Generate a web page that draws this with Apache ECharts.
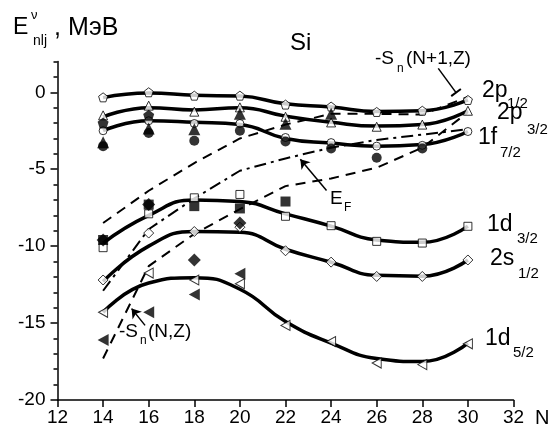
<!DOCTYPE html>
<html>
<head>
<meta charset="utf-8">
<script src="https://cdn.jsdelivr.net/npm/echarts@6/dist/echarts.min.js"></script>
<style>
html, body { margin: 0; padding: 0; background: #fff; }
#chart { width: 551px; height: 432px; }
</style>
</head>
<body>
<div id="chart"></div>
<script>
// neutron numbers of the Si isotopes
const neutrons = [14, 16, 18, 20, 22, 24, 26, 28, 30]

// thick fitted curves
const fit2p12 = [-0.35, -0.05, -0.2, -0.25, -0.75, -0.95, -1.25, -1.2, -0.5]
const fit2p32 = [-1.6, -1.0, -1.15, -1.0, -1.55, -1.95, -2.2, -2.1, -1.2]
const fit1f72 = [-2.5, -1.85, -1.95, -2.1, -3.0, -3.3, -3.5, -3.4, -2.55]
const fit1d32 = [-9.8, -8.0, -7.0, -7.1, -7.9, -8.7, -9.6, -9.75, -8.7]
const fit2s12 = [-12.3, -10.0, -9.05, -9.1, -10.2, -11.05, -11.9, -11.95, -10.9]
const fit1d52 = [-14.3, -12.4, -12.05, -12.8, -14.9, -16.3, -17.3, -17.5, -16.3]

// calculated levels (hollow markers)
const calc2p12 = [-0.33, 0.0, -0.22, -0.22, -0.8, -0.93, -1.28, -1.2, -0.5]
const calc2p32 = [-1.5, -0.87, -1.26, -0.98, -1.59, -1.96, -2.24, -2.1, -1.2]
const calc1f72 = [-2.5, -1.85, -2.03, -2.03, -2.94, -3.27, -3.5, -3.45, -2.55]
const calc1d32 = [-10.1, -7.9, -6.86, -6.64, -8.06, -8.67, -9.69, -9.8, -8.71]
const calc2s12 = [-12.2, -9.15, -9.05, -8.77, -10.3, -11.04, -11.97, -11.97, -10.9]
const calc1d52 = [-14.3, -11.75, -12.2, -12.45, -15.15, -16.2, -17.6, -17.7, -16.35]

// experimental levels (filled markers)
const expPentN = [14, 16]
const expPent = [-2.0, -1.5]
const expTriN = [14, 16, 18, 20, 22, 24]
const expTri = [-3.25, -2.35, -2.4, -1.4, -2.05, -1.4]
const expCircN = [14, 16, 18, 20, 22, 24, 26, 28]
const expCirc = [-3.5, -2.65, -3.15, -2.5, -3.2, -3.65, -4.25, -3.65]
const expSqN = [14, 16, 18, 20, 22]
const expSq = [-9.6, -7.3, -7.4, -7.55, -7.1]
const expDiaN = [14, 16, 18, 20]
const expDia = [-9.6, -7.3, -10.9, -8.5]
const expLeftN = [14, 16, 18, 20]
const expLeft = [-16.1, -14.3, -13.15, -11.8]

// separation energies and Fermi energy
const snN = [-17.3, -11.3, -9.2, -7.6, -6.1, -5.6, -4.9, -3.6, -1.3]
const snN1 = [-8.5, -6.4, -4.6, -3.0, -2.1, -1.4, -1.4, -1.45, -0.3]
const fermi = [-12.9, -8.9, -6.9, -5.1, -4.3, -3.6, -3.1, -2.75, -2.4]

// axis ticks
const xTicks = [12, 14, 16, 18, 20, 22, 24, 26, 28, 30, 32]
const yMajor = [-20, -15, -10, -5, 0]
const yMinor = [-19, -18, -17, -16, -14, -13, -12, -11, -9, -8, -7, -6, -4, -3, -2, -1, 1, 2]

const FONT = '"Liberation Sans", Arial, sans-serif'
const PENT = 'path://M0,-10L9.51,-3.09L5.88,8.09L-5.88,8.09L-9.51,-3.09Z'
const LEFT = 'path://M-1,0L1,-1L1,1Z'

function pairs(xs, ys) {
  return xs.map((x, i) => [x, ys[i]])
}

function fitLine(ys) {
  return {
    type: 'line', data: pairs(neutrons, ys), smooth: 0.5, showSymbol: false,
    lineStyle: { color: '#000', width: 3.5 }, silent: true, z: 3
  }
}

function hollow(xs, ys, symbol, size) {
  return {
    type: 'scatter', data: pairs(xs, ys), symbol: symbol, symbolSize: size,
    itemStyle: { color: '#fff', borderColor: '#000', borderWidth: 1 }, silent: true, z: 4
  }
}

function filled(xs, ys, symbol, size) {
  return {
    type: 'scatter', data: pairs(xs, ys), symbol: symbol, symbolSize: size,
    itemStyle: { color: '#000' }, silent: true, z: 5
  }
}

function txt(x, y, s, size) {
  return {
    type: 'text', x: x, y: y, silent: true,
    style: { text: s, font: size + 'px ' + FONT, fill: '#000', align: 'left', verticalAlign: 'middle', textAlign: 'left', textVerticalAlign: 'middle' }
  }
}

const myChart = echarts.init(document.getElementById('chart'))
myChart.setOption({
  animation: false,
  backgroundColor: '#fff',
  grid: { left: 57.5, right: 37.5, top: 61.5, bottom: 32, containLabel: false },
  xAxis: {
    type: 'value', min: 12, max: 32, interval: 2,
    axisLine: { show: true, onZero: false, lineStyle: { color: '#000', width: 1.5 } },
    axisTick: { show: true, length: 7, lineStyle: { color: '#000', width: 1.5 }, customValues: xTicks },
    axisLabel: { color: '#000', fontSize: 19, fontFamily: FONT, margin: 8, customValues: xTicks },
    splitLine: { show: false }
  },
  yAxis: [{
    type: 'value', min: -20, max: 2, position: 'left',
    axisLine: { show: true, onZero: false, lineStyle: { color: '#000', width: 1.5 } },
    axisTick: { show: true, length: 7, lineStyle: { color: '#000', width: 1.5 }, customValues: yMajor },
    axisLabel: { color: '#000', fontSize: 19, fontFamily: FONT, margin: 12, customValues: yMajor },
    splitLine: { show: false }
  }, {
    type: 'value', min: -20, max: 2, position: 'left',
    axisLine: { show: false, onZero: false },
    axisTick: { show: true, length: 4, lineStyle: { color: '#000', width: 1.5 }, customValues: yMinor },
    axisLabel: { show: false },
    splitLine: { show: false }
  }],
  series: [
    {
      type: 'line', data: pairs(neutrons, snN), showSymbol: false, silent: true, z: 2,
      lineStyle: { color: '#000', width: 2, type: [10, 7] },
      markLine: {
        silent: true, symbol: ['none', 'arrow'], symbolSize: 9,
        label: { show: false },
        lineStyle: { color: '#000', width: 1.5, type: 'solid' },
        data: [
          [{ coord: [15.84, -15.15] }, { coord: [15.25, -14.06] }],
          [{ coord: [23.8, -6.38] }, { coord: [22.65, -4.35] }],
          [{ coord: [28.7, 1.55] }, { coord: [29.48, -0.02], symbol: 'rect', symbolSize: [12, 2] }]
        ]
      }
    },
    {
      type: 'line', data: pairs(neutrons, snN1), showSymbol: false, silent: true, z: 2,
      lineStyle: { color: '#000', width: 2, type: [10, 7] }
    },
    {
      type: 'line', data: pairs(neutrons, fermi), showSymbol: false, silent: true, z: 2,
      lineStyle: { color: '#000', width: 2, type: [12, 5, 3, 5] }
    },
    fitLine(fit2p12),
    fitLine(fit2p32),
    fitLine(fit1f72),
    fitLine(fit1d32),
    fitLine(fit2s12),
    fitLine(fit1d52),
    hollow(neutrons, calc2p12, PENT, 9),
    hollow(neutrons, calc2p32, 'triangle', 9),
    hollow(neutrons, calc1f72, 'circle', 8),
    hollow(neutrons, calc1d32, 'rect', 8),
    hollow(neutrons, calc2s12, 'diamond', 10),
    hollow(neutrons, calc1d52, LEFT, [9, 10]),
    filled(expPentN, expPent, PENT, 11),
    filled(expTriN, expTri, 'triangle', 12),
    filled(expCircN, expCirc, 'circle', 10),
    filled(expSqN, expSq, 'rect', 10),
    filled(expDiaN, expDia, 'diamond', 13),
    filled(expLeftN, expLeft, LEFT, [11, 12])
  ],
  graphic: [
    txt(13, 28, 'E', 23),
    txt(31, 15, 'ν', 13),
    txt(33, 41, 'nlj', 14),
    txt(54, 28, ', МэВ', 25),
    txt(290, 43, 'Si', 24),
    txt(375, 59, '-S', 19),
    txt(397, 69, 'n', 12),
    txt(406, 59, '(N+1,Z)', 19),
    txt(330, 199, 'E', 19),
    txt(344, 208, 'F', 12),
    txt(119, 332, '-S', 19),
    txt(140, 341, 'n', 12),
    txt(148, 332, '(N,Z)', 19),
    txt(482, 91, '2p', 23),
    txt(507, 104, '1/2', 15),
    txt(497, 113, '2p', 23),
    txt(527, 130, '3/2', 15),
    txt(478, 138, '1f', 23),
    txt(500, 153, '7/2', 15),
    txt(487, 225, '1d', 23),
    txt(517, 239, '3/2', 15),
    txt(490, 259, '2s', 23),
    txt(518, 274, '1/2', 15),
    txt(485, 339, '1d', 23),
    txt(513, 353, '5/2', 15),
    txt(535, 418, 'N', 20)
  ]
})
window.addEventListener('resize', function() {
  myChart.resize()
})
</script>
</body>
</html>
